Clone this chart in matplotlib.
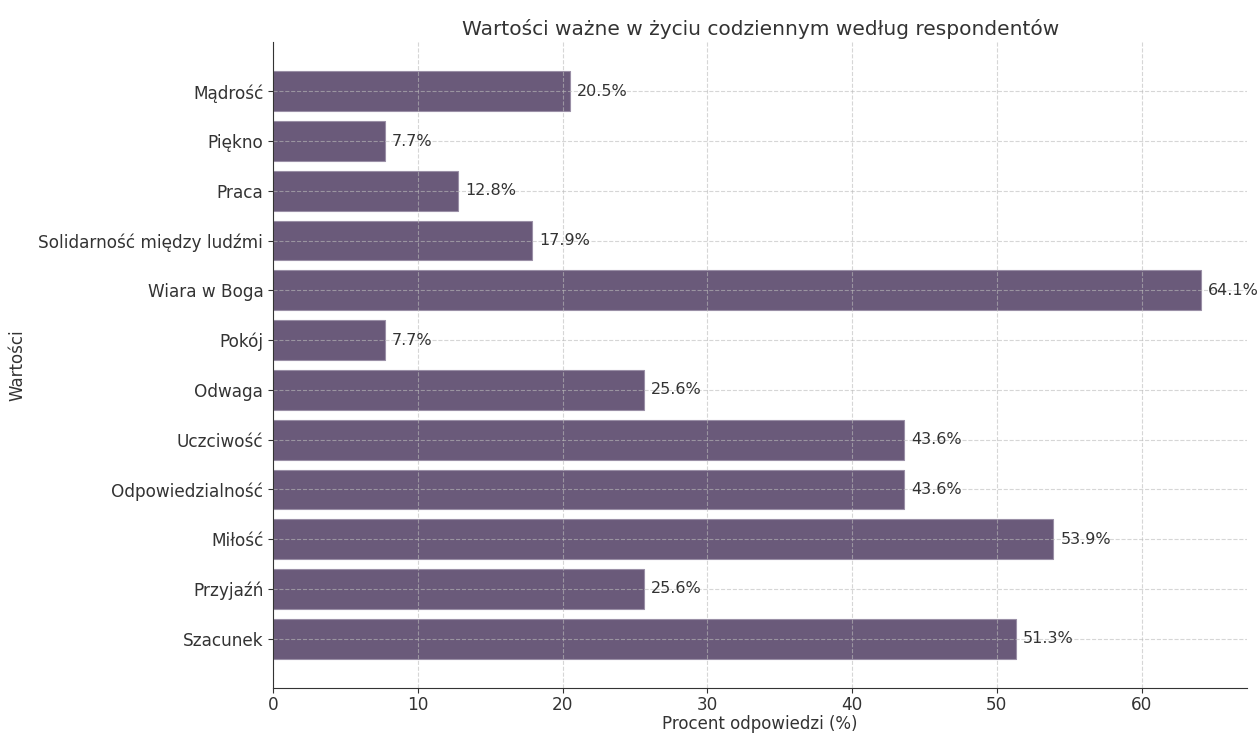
import matplotlib
matplotlib.use("Agg")
import matplotlib.pyplot as plt

categories = ["Szacunek", "Przyjaźń", "Miłość", "Odpowiedzialność", "Uczciwość",
              "Odwaga", "Pokój", "Wiara w Boga", "Solidarność między ludźmi",
              "Praca", "Piękno", "Mądrość"]
values = [51.3, 25.6, 53.9, 43.6, 43.6, 25.6, 7.7, 64.1, 17.9, 12.8, 7.7, 20.5]

plt.rcParams['font.family'] = ['DejaVu Sans']
fig = plt.figure(figsize=(12.6, 7.33), dpi=100)
ax = fig.add_axes([0.2167, 0.0614, 0.7733, 0.8813])

ax.barh(categories, values, height=0.8, color='#6a5a7a', edgecolor='#9a8fa6', linewidth=0.8, zorder=2)
ax.grid(True, linestyle='--', color='#bbbbbb', alpha=0.6, linewidth=0.8, zorder=3)
ax.set_axisbelow(False)

for i, v in enumerate(values):
    ax.text(v + 0.5, i, f"{v}%", va='center', ha='left', fontsize=11.5, color='#333333', zorder=4)

ax.set_title("Wartości ważne w życiu codziennym według respondentów", fontsize=14.5, color='#333333', pad=5)
ax.set_xlabel("Procent odpowiedzi (%)", fontsize=12, color='#333333', labelpad=1)
ax.set_ylabel("Wartości", fontsize=12, color='#333333')
ax.yaxis.set_label_coords(-0.2526, 0.5)
ax.tick_params(axis='both', labelsize=12.2, colors='#333333')
ax.tick_params(axis='x', pad=2)
ax.spines['top'].set_visible(False)
ax.spines['right'].set_visible(False)
for s in ('left', 'bottom'):
    ax.spines[s].set_color('#333333')
    ax.spines[s].set_zorder(5)

fig.savefig("out.png", dpi=100)
